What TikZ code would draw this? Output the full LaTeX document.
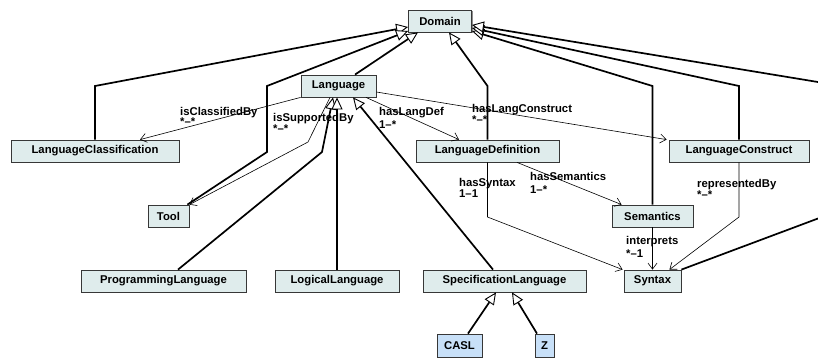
\documentclass[tikz,border=0pt]{standalone}
\usepackage{fontspec}
\setmainfont{Liberation Sans}
\usetikzlibrary{arrows.meta,shadows}
\definecolor{boxfill}{RGB}{223,236,236}
\definecolor{leaffill}{RGB}{200,224,248}
\definecolor{boxline}{RGB}{55,55,55}
\begin{document}
\begin{tikzpicture}[x=1pt,y=-1pt,
  every node/.style={font=\fontsize{11.3}{12}\selectfont\bfseries},
  cls/.style={draw=boxline, line width=0.8pt, fill=boxfill, minimum height=22pt, inner sep=0pt,
    drop shadow={shadow xshift=1.3pt, shadow yshift=-1.3pt, fill=black!45, opacity=1}},
  leaf/.style={cls, fill=leaffill},
  isa/.style={line width=1.7pt, line join=miter,
    -{Triangle[length=12pt,width=11pt,fill=white,line width=0.9pt]}},
  assoc/.style={line width=0.6pt,
    -{Straight Barb[length=6pt,width=9pt,line width=0.6pt]}},
  lbl/.style={anchor=base west, inner sep=0pt},
]
\useasboundingbox (0,0) rectangle (818,359);
\clip (0,0) rectangle (818,359);

% classes
\node[cls, minimum width=63pt]  (dom)   at (440,21)    {Domain};
\node[cls, minimum width=75pt]  (lang)  at (338.5,86)  {Language};
\node[cls, minimum width=168pt] (lc)    at (95,151)    {LanguageClassification};
\node[cls, minimum width=143pt] (ldef)  at (487.5,151) {LanguageDefinition};
\node[cls, minimum width=140pt] (lcons) at (739,151)   {LanguageConstruct};
\node[cls, minimum width=41pt]  (tool)  at (168.5,216) {Tool};
\node[cls, minimum width=81pt]  (sem)   at (652.5,216) {Semantics};
\node[cls, minimum width=165pt] (pl)    at (163.5,281) {ProgrammingLanguage};
\node[cls, minimum width=124pt] (ll)    at (337,281)   {LogicalLanguage};
\node[cls, minimum width=163pt] (sl)    at (504.5,281) {SpecificationLanguage};
\node[cls, minimum width=57pt]  (syn)   at (652.5,281) {Syntax};
\node[leaf, minimum width=45pt, minimum height=23pt] (casl) at (459.5,345.5) {CASL};
\node[leaf, minimum width=19pt, minimum height=23pt] (z)    at (544.5,345.5) {Z};

% generalisations to Domain
\draw[isa] (lc.north) -- (95,86) -- ([yshift=-6pt]dom.west);
\draw[isa] ([xshift=-2pt]tool.north east) -- (267,152) -- (267,86) -- ([yshift=-10pt]dom.west);
\draw[isa] ([xshift=16.5pt]lang.north) -- ([xshift=-22pt]dom.south);
\draw[isa] (ldef.north) -- (487.5,86) -- ([xshift=9pt]dom.south);
\draw[isa] (sem.north) -- (652.5,86) -- ([yshift=-10pt]dom.east);
\draw[isa] (lcons.north) -- (739,86) -- ([yshift=-7pt]dom.east);
\draw[isa] (syn.north east) -- (830,214) -- (830,84) -- ([yshift=-4pt]dom.east);

% generalisations to Language
\draw[isa] ([xshift=14.5pt]pl.north) -- (322,152) -- ([xshift=-5.5pt]lang.south);
\draw[isa] (ll.north) -- (ll.north |- lang.south);
\draw[isa] ([xshift=-11.5pt]sl.north) -- ([xshift=14.5pt]lang.south);

% generalisations to SpecificationLanguage
\draw[isa] ([xshift=8.5pt]casl.north) -- ([xshift=-8.5pt]sl.south);
\draw[isa] ([xshift=-7.5pt]z.north) -- ([xshift=7.5pt]sl.south);

% associations
\draw[assoc] (lang.south west) -- ([xshift=45pt]lc.north);
\draw[assoc] ([xshift=-8.5pt]lang.south) -- (308,142) -- (tool.north east);
\draw[assoc] ([xshift=27.5pt]lang.south) -- ([xshift=-28.5pt]ldef.north);
\draw[assoc] ([yshift=-6pt]lang.east) -- ([xshift=-2pt]lcons.north west);
\draw[assoc] (ldef.south) -- (487.5,217) -- ([xshift=-1pt]syn.north west);
\draw[assoc] ([xshift=29.5pt]ldef.south) -- ([xshift=10pt]sem.north west);
\draw[assoc] (sem.south) -- (syn.north);
\draw[assoc] (lcons.south) -- (739,217) -- ([xshift=-12pt]syn.north east);

% association labels
\node[lbl] (t1)  at (180,115) {isClassifiedBy};
\node[lbl] (m1)  at (180,125) {*--*};
\node[lbl] (t2)  at (273,121) {isSupportedBy};
\node[lbl] (m2)  at (273,132) {*--*};
\node[lbl] (t3)  at (379,115) {hasLangDef};
\node[lbl] (m3)  at (379,128) {1--*};
\node[lbl] (t4)  at (472,112) {hasLangConstruct};
\node[lbl] (m4)  at (472,123) {*--*};
\node[lbl] (t5)  at (459,186) {hasSyntax};
\node[lbl] (m5)  at (459,197) {1--1};
\node[lbl] (t6)  at (530,180) {hasSemantics};
\node[lbl] (m6)  at (530,193) {1--*};
\node[lbl] (t7)  at (626,244) {interprets};
\node[lbl] (m7)  at (626,257) {*--1};
\node[lbl] (t8)  at (697,187) {representedBy};
\node[lbl] (m8)  at (697,198) {*--*};
\end{tikzpicture}
\end{document}
